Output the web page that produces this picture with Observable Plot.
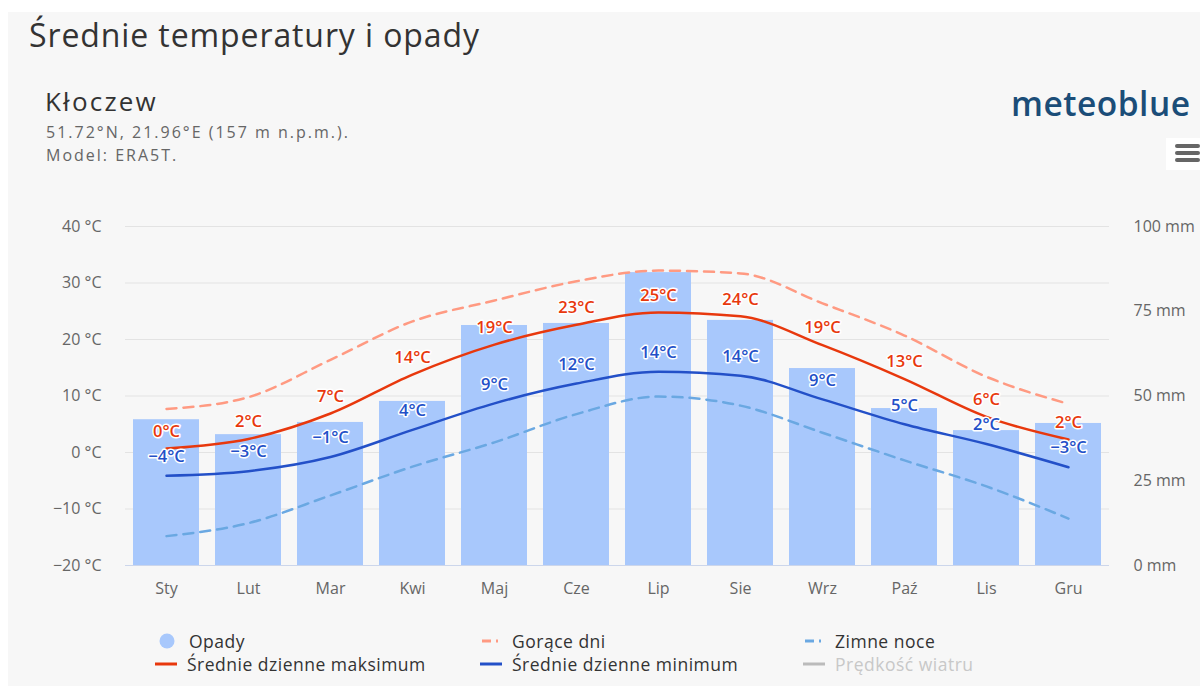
<!DOCTYPE html>
<html>
<head>
<meta charset="utf-8">
<script src="https://cdn.jsdelivr.net/npm/d3@7"></script>
<script src="https://cdn.jsdelivr.net/npm/@observablehq/plot@0.6"></script>
<style>
  html, body { margin: 0; padding: 0; background: #ffffff; width: 1200px; height: 686px; overflow: hidden; }
  #panel { position: absolute; left: 8px; top: 12px; width: 1192px; height: 674px; background: #f7f7f7; }
  .t { position: absolute; font-family: "Open Sans", "Noto Sans", sans-serif; white-space: nowrap; }
  #chart { position: absolute; left: 0; top: 200px; }
  .leg { position: absolute; font-family: "Open Sans", "Noto Sans", sans-serif; font-size: 17.5px; letter-spacing: 0.5px; color: #333; white-space: nowrap; display: flex; align-items: center; }
  .leg svg { margin-right: 8px; }
</style>
</head>
<body>
<div id="panel"></div>
<div class="t" style="left:29px; top:13px; font-size:32px; letter-spacing:0.9px; color:#333;">Średnie temperatury i opady</div>
<div class="t" style="left:45px; top:83px; font-size:26px; letter-spacing:2.2px; color:#333;">Kłoczew</div>
<div class="t" style="left:46px; top:121px; font-size:16px; letter-spacing:2.0px; color:#666;">51.72°N, 21.96°E (157 m n.p.m.).</div>
<div class="t" style="left:46px; top:144px; font-size:16px; letter-spacing:2.0px; color:#666;">Model: ERA5T.</div>
<div class="t" style="left:1011px; top:80px; font-size:33.5px; color:#1b4d78; font-weight:600; letter-spacing:0.5px;">meteoblue</div>
<div style="position:absolute; left:1166px; top:138px; width:34px; height:32px; background:#ffffff;">
  <div style="position:absolute; left:9px; top:6px; width:25px; height:4px; background:#666; border-radius:2px;"></div>
  <div style="position:absolute; left:9px; top:13px; width:25px; height:4px; background:#666; border-radius:2px;"></div>
  <div style="position:absolute; left:9px; top:20px; width:25px; height:4px; background:#666; border-radius:2px;"></div>
</div>
<div id="chart"></div>
<div id="legend"></div>
<script>
const months = ["Sty","Lut","Mar","Kwi","Maj","Cze","Lip","Sie","Wrz","Paź","Lis","Gru"];
const precip = [43.0, 38.6, 42.2, 48.4, 70.8, 71.4, 86.4, 72.3, 58.1, 46.3, 39.8, 41.9];
const tMax = [0.7, 2.4, 6.9, 13.8, 19.1, 22.6, 24.8, 24.1, 19.0, 13.0, 6.3, 2.3];
const tMin = [-4.1, -3.3, -0.8, 4.0, 8.7, 12.2, 14.3, 13.6, 9.4, 5.0, 1.5, -2.6];
const hotDays = [7.7, 9.8, 16.4, 23.2, 26.9, 30.3, 32.2, 31.7, 26.4, 20.7, 13.4, 8.6];
const coldNights = [-14.8, -12.5, -7.6, -2.5, 1.8, 6.8, 9.9, 8.3, 3.5, -1.4, -6.0, -11.7];
const maxLabels = ["0°C","2°C","7°C","14°C","19°C","23°C","25°C","24°C","19°C","13°C","6°C","2°C"];
const minLabels = ["−4°C","−3°C","−1°C","4°C","9°C","12°C","14°C","14°C","9°C","5°C","2°C","−3°C"];
const tempTicks = [-20, -10, 0, 10, 20, 30, 40];
const mmTicks = [0, 25, 50, 75, 100];

const colBar = "#a8c8fc", colMax = "#e8380d", colMin = "#2350c8", colHot = "#ff9a82", colCold = "#6aa8e2";

// precipitation mm mapped onto temperature axis: 0 mm = -20 °C, 100 mm = 40 °C
const mmToT = mm => -20 + mm * 0.6;

const rows = months.map((m, i) => ({
  m, p: precip[i], pT: mmToT(precip[i]), max: tMax[i], min: tMin[i],
  hot: hotDays[i], cold: coldNights[i], maxL: maxLabels[i], minL: minLabels[i]
}));
const mmRows = mmTicks.map(v => ({v, t: mmToT(v)}));

const chart = Plot.plot({
  width: 1200,
  height: 410,
  marginTop: 26,
  marginBottom: 45,
  marginLeft: 125,
  marginRight: 91,
  style: { background: "transparent", fontFamily: "'Open Sans', 'Noto Sans', sans-serif", fontSize: "15px", color: "#666" },
  x: { type: "band", domain: months, paddingInner: 0.2, paddingOuter: 0.1, label: null },
  y: { domain: [-20, 40], label: null },
  marks: [
    Plot.ruleY(tempTicks, { stroke: "#e3e3e3", strokeWidth: 1 }),
    Plot.barY(rows, { x: "m", y1: -20, y2: "pT", fill: colBar }),
    Plot.ruleY([-20], { stroke: "#ccd6eb", strokeWidth: 1 }),
    Plot.line(rows, { x: "m", y: "hot", stroke: colHot, strokeWidth: 2.5, strokeDasharray: "10,7", curve: "monotone-x" }),
    Plot.line(rows, { x: "m", y: "cold", stroke: colCold, strokeWidth: 2.5, strokeDasharray: "10,7", curve: "monotone-x" }),
    Plot.line(rows, { x: "m", y: "max", stroke: colMax, strokeWidth: 2.5, curve: "monotone-x" }),
    Plot.line(rows, { x: "m", y: "min", stroke: colMin, strokeWidth: 2.5, curve: "monotone-x" }),
    Plot.text(rows, { x: "m", y: "max", text: "maxL", dy: -17, fill: colMax, stroke: "#ffffff", strokeWidth: 3, fontSize: 16.5, fontWeight: 600 }),
    Plot.text(rows, { x: "m", y: "min", text: "minL", dy: -19, fill: colMin, stroke: "#ffffff", strokeWidth: 3, fontSize: 16.5, fontWeight: 600 }),
    Plot.axisY(tempTicks, { anchor: "left", tickSize: 0, tickPadding: 24, tickFormat: d => (d < 0 ? "−" + Math.abs(d) : d) + " °C", fill: "#666", fontSize: 16, letterSpacing: "0.8px" }),
    Plot.text(mmRows, { frameAnchor: "right", y: "t", text: d => d.v + " mm", textAnchor: "start", dx: 24, fill: "#666", fontSize: 16, letterSpacing: "0.8px" }),
    Plot.axisX({ tickSize: 0, tickPadding: 17, fill: "#666", fontSize: 16, letterSpacing: "0.5px" })
  ]
});
document.getElementById("chart").appendChild(chart);

// legend
const legendItems = [
  { label: "Opady", x: 157, y: 641, sym: `<circle cx="10" cy="8" r="7.5" fill="${colBar}"/>` },
  { label: "Gorące dni", x: 480, y: 641, sym: `<line x1="2" y1="8" x2="11" y2="8" stroke="${colHot}" stroke-width="3"/><line x1="16" y1="8" x2="18" y2="8" stroke="${colHot}" stroke-width="3"/>` },
  { label: "Zimne noce", x: 803, y: 641, sym: `<line x1="2" y1="8" x2="11" y2="8" stroke="${colCold}" stroke-width="3"/><line x1="16" y1="8" x2="18" y2="8" stroke="${colCold}" stroke-width="3"/>` },
  { label: "Średnie dzienne maksimum", x: 155, y: 664, sym: `<line x1="0" y1="8" x2="22" y2="8" stroke="${colMax}" stroke-width="3"/>` },
  { label: "Średnie dzienne minimum", x: 480, y: 664, sym: `<line x1="0" y1="8" x2="22" y2="8" stroke="${colMin}" stroke-width="3"/>` },
  { label: "Prędkość wiatru", x: 803, y: 664, sym: `<line x1="0" y1="8" x2="22" y2="8" stroke="#bbbbbb" stroke-width="3"/>`, grey: true }
];
const leg = document.getElementById("legend");
legendItems.forEach(it => {
  const d = document.createElement("div");
  d.className = "leg";
  d.style.left = it.x + "px";
  d.style.top = (it.y - 12) + "px";
  if (it.grey) d.style.color = "#c8c8c8";
  d.innerHTML = `<svg width="24" height="16">${it.sym}</svg><span>${it.label}</span>`;
  leg.appendChild(d);
});
</script>
</body>
</html>
